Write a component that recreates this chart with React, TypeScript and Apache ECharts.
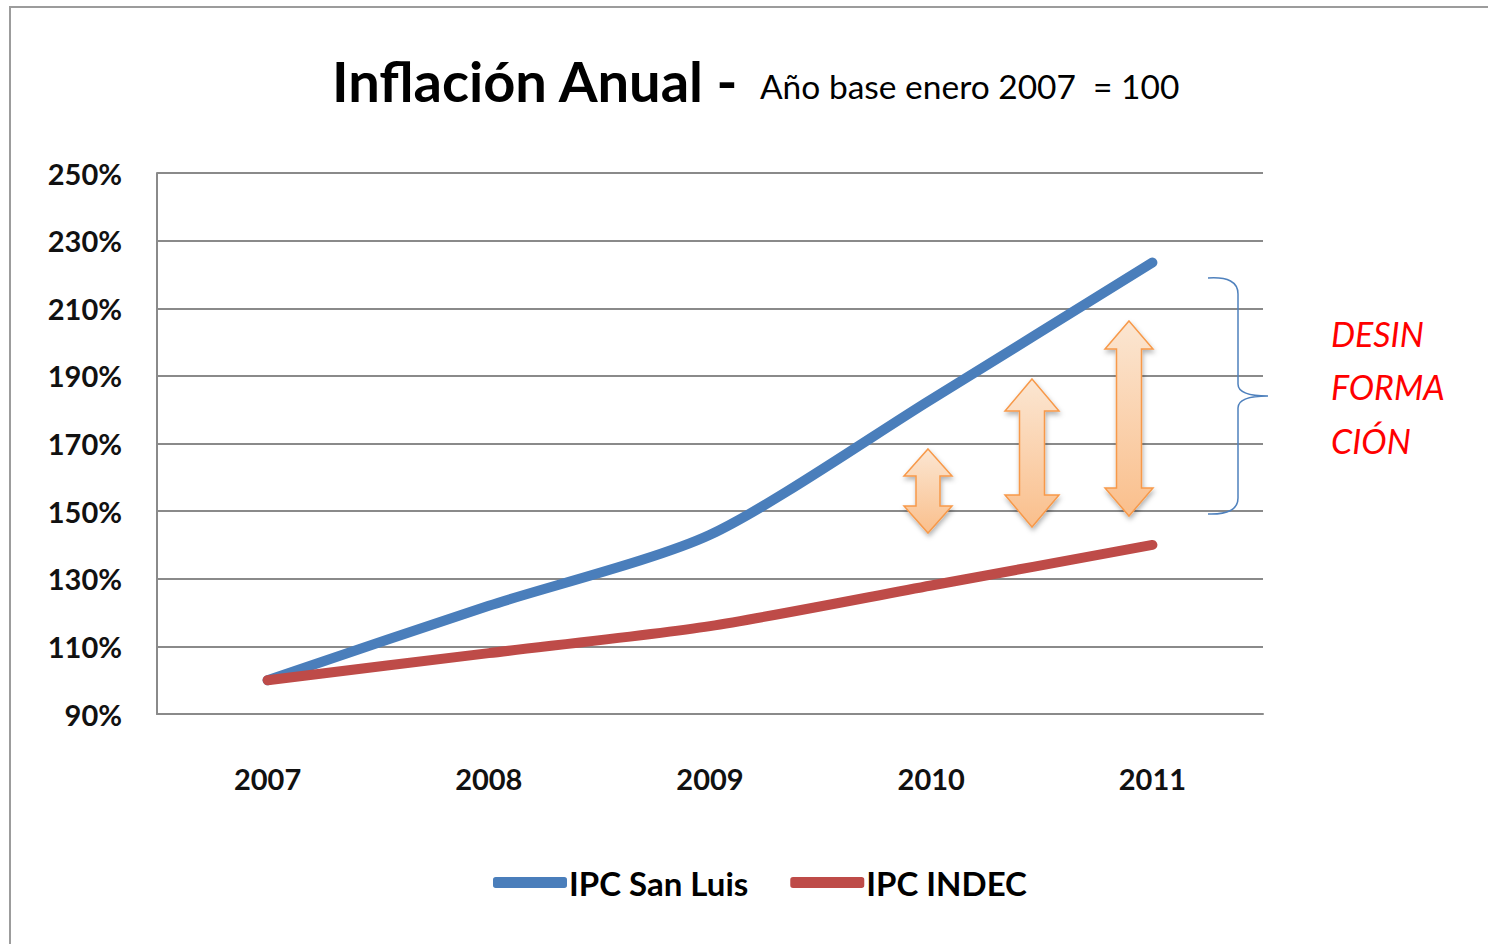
import React, { useEffect, useRef } from "react";
import * as echarts from "echarts";

const years = ["2007", "2008", "2009", "2010", "2011"];
const ipcSanLuis = [100, 122, 143, 183, 223.5];
const ipcIndec = [100, 108, 116, 128, 140];
const seriesNames = ["IPC San Luis", "IPC INDEC"];
const yTicks = { min: 90, max: 250, interval: 20 };
const annotationLines = ["DESIN", "FORMA", "CIÓN"];

const FONT = "Lato, 'Noto Sans', sans-serif";

// annotation shapes (layout only)
const arrowShapes = [
  { cx: 928, top: 449, bottom: 533, hw: 24, sw: 12, hh: 27 },
  { cx: 1032, top: 379, bottom: 527, hw: 27, sw: 12.5, hh: 32 },
  { cx: 1129, top: 321, bottom: 516, hw: 24, sw: 12.5, hh: 28 },
];

const braceD =
  "M1208,278 Q1238,276 1238,294 L1238,384 Q1238,396 1268,396 Q1238,396 1238,408 L1238,498 Q1238,515 1208,514";

let registered = false;
function ensureShapes() {
  if (registered) return;
  echarts.graphic.registerShape("brace", echarts.graphic.extendPath(braceD, {}) as any);
  registered = true;
}

function arrowPoints(a: { cx: number; top: number; bottom: number; hw: number; sw: number; hh: number }) {
  const { cx, top, bottom, hw, sw, hh } = a;
  return [
    [cx, top],
    [cx + hw, top + hh],
    [cx + sw, top + hh],
    [cx + sw, bottom - hh],
    [cx + hw, bottom - hh],
    [cx, bottom],
    [cx - hw, bottom - hh],
    [cx - sw, bottom - hh],
    [cx - sw, top + hh],
    [cx - hw, top + hh],
  ];
}

export default function App() {
  const ref = useRef<HTMLDivElement>(null);
  useEffect(() => {
    if (!ref.current) return;
    ensureShapes();
    const chart = echarts.init(ref.current, undefined, { renderer: "svg" });
    const graphics: any[] = [
      {
        type: "rect",
        shape: { x: 10, y: 7, width: 1700, height: 1200 },
        style: { fill: "none", stroke: "#9c9c9c", lineWidth: 2 },
        silent: true,
        z: 0,
      },
      {
        type: "text",
        left: 332,
        top: 52,
        style: {
          text: "Inflación Anual -",
          font: `bold 56px ${FONT}`,
          fill: "#000",
        },
      },
      {
        type: "text",
        left: 760,
        top: 69,
        style: {
          text: "Año base enero 2007  = 100",
          font: `normal 33.5px ${FONT}`,
          fill: "#000",
        },
      },
      ...arrowShapes.map((a) => ({
        type: "polygon",
        shape: { points: arrowPoints(a) },
        style: {
          fill: new echarts.graphic.LinearGradient(0, 0, 0, 1, [
            { offset: 0, color: "#fbe6d2" },
            { offset: 1, color: "#fabf8c" },
          ]),
          stroke: "#f7994a",
          lineWidth: 1.5,
          shadowBlur: 5,
          shadowOffsetX: 1,
          shadowOffsetY: 3,
          shadowColor: "rgba(0,0,0,0.3)",
        },
        z: 10,
      })),
      {
        type: "brace",
        x: 0,
        y: 0,
        style: { fill: "none", stroke: "#4f81bd", lineWidth: 1.5 },
        z: 10,
      },
      ...annotationLines.map((t, i) => ({
        type: "text",
        x: 1331,
        y: 333 + i * 53.5,
        style: {
          text: t,
          font: `italic normal 34px ${FONT}`,
          fill: "#ff0000",
          textVerticalAlign: "middle",
          verticalAlign: "middle",
        },
        z: 10,
      })),
    ];

    chart.setOption({
      animation: false,
      backgroundColor: "#ffffff",
      grid: { left: 157, right: 225, top: 173, bottom: 230 },
      legend: {
        left: 493,
        top: 866,
        padding: 0,
        icon: "roundRect",
        itemWidth: 74,
        itemHeight: 11,
        itemGap: 42,
        data: seriesNames,
        textStyle: { fontFamily: FONT, fontSize: 33, fontWeight: "bold", color: "#000", padding: [0, 0, 0, -3] },
      },
      xAxis: {
        type: "category",
        data: years,
        boundaryGap: true,
        axisLine: { show: true, lineStyle: { color: "#8a8a8a", width: 2 } },
        axisTick: { show: false },
        axisLabel: { fontFamily: FONT, fontSize: 29, fontWeight: "bold", color: "#111", margin: 50 },
      },
      yAxis: {
        type: "value",
        min: yTicks.min,
        max: yTicks.max,
        interval: yTicks.interval,
        axisLine: { show: true, lineStyle: { color: "#8a8a8a", width: 2 } },
        axisTick: { show: false },
        splitLine: { lineStyle: { color: "#8a8a8a", width: 2 } },
        axisLabel: {
          formatter: "{value}%",
          fontFamily: FONT,
          fontSize: 29,
          fontWeight: "bold",
          color: "#111",
          margin: 35,
        },
      },
      series: [
        {
          name: seriesNames[0],
          type: "line",
          data: ipcSanLuis,
          smooth: 0.25,
          symbol: "none",
          color: "#4a7ebb",
          lineStyle: { width: 10, color: "#4a7ebb", cap: "round", join: "round" },
          z: 3,
        },
        {
          name: seriesNames[1],
          type: "line",
          data: ipcIndec,
          smooth: 0.25,
          symbol: "none",
          color: "#be4b48",
          lineStyle: { width: 10, color: "#be4b48", cap: "round", join: "round" },
          z: 4,
        },
      ],
      graphic: graphics,
    });
    return () => chart.dispose();
  }, []);
  return (
    <div
      ref={ref}
      style={{ position: "fixed", left: 0, top: 0, width: 1488, height: 944, background: "#fff" }}
    />
  );
}
